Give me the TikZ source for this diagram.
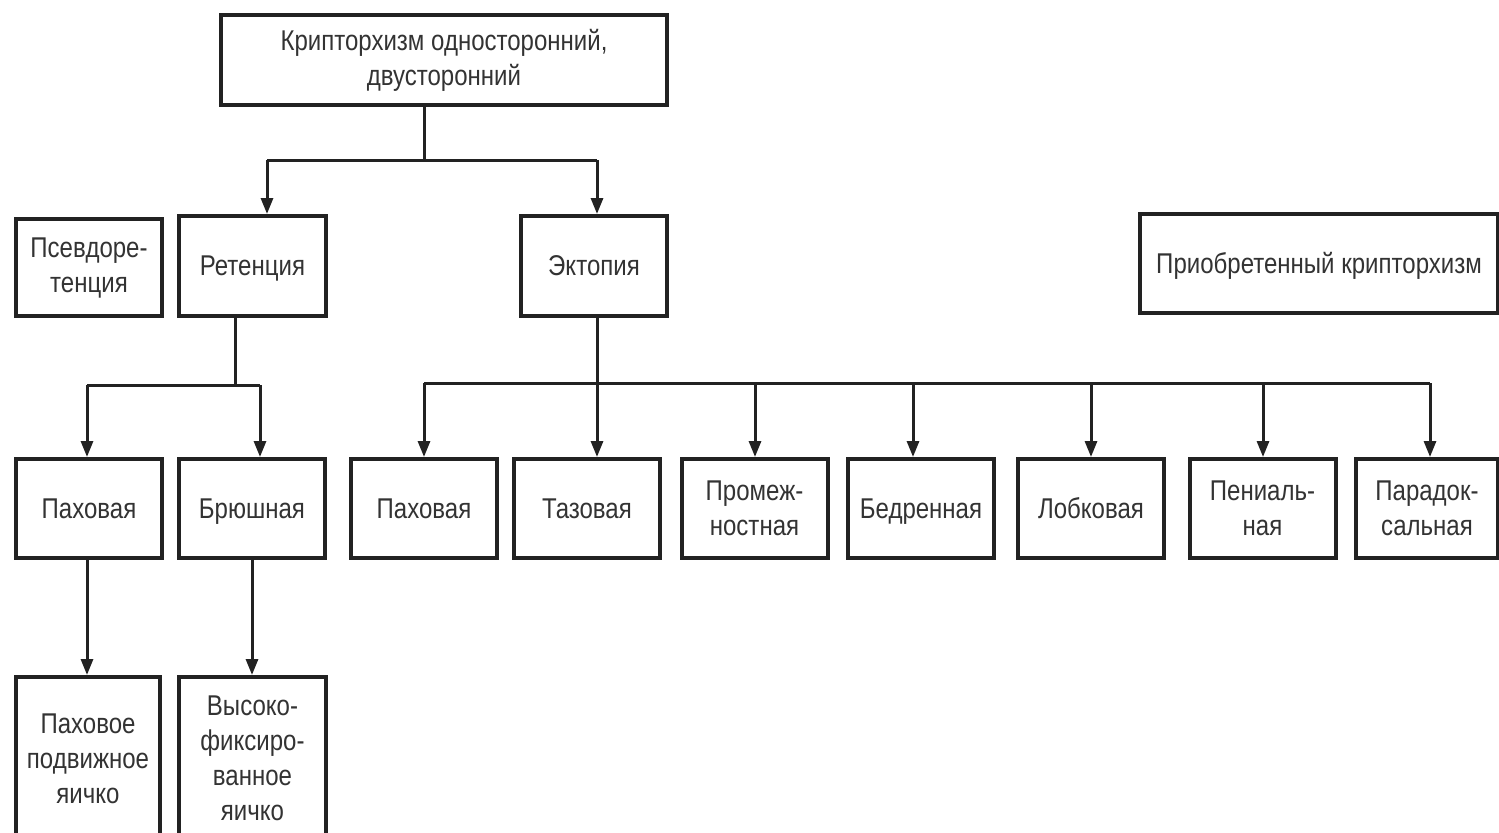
\documentclass[tikz,border=0pt]{standalone}
\usepackage{fontspec}
\setmainfont{Liberation Sans}[FakeStretch=0.84]
\usetikzlibrary{arrows.meta}
\definecolor{ink}{HTML}{222222}
\definecolor{txt}{HTML}{333333}
\begin{document}
\begin{tikzpicture}[x=0.5pt,y=-0.5pt,
  box/.style={draw=ink,line width=2pt,fill=white,inner sep=0pt,align=center,
    text=txt,font=\fontsize{14.3}{17.5}\selectfont,minimum height=49.5pt,minimum width=73pt},
  one/.style={text height=10.5pt,text depth=1pt},
  conn/.style={draw=ink,line width=1.5pt},
  arr/.style={conn,-{Triangle[length=8pt,width=6pt]}}]
\clip (0,0) rectangle (1499,832);
\fill[white] (0,0) rectangle (1499,832);
% level 0
\node[box,minimum width=223pt,minimum height=45pt] (top) at (444,60) {Крипторхизм односторонний,\\двусторонний};
% level 1
\node[box,minimum height=48.5pt] (pseudo) at (89,267.5) {Псевдоре-\\тенция};
\node[box,one,minimum width=73.5pt,minimum height=50pt] (ret) at (252.5,266) {Ретенция};
\node[box,one,minimum height=50pt] (ekt) at (594,266) {Эктопия};
\node[box,one,minimum width=179pt] (acq) at (1319,263.5) {Приобретенный крипторхизм};
% level 2
\node[box,one] (pah1) at (89,508.5) {Паховая};
\node[box,one] (bru) at (252,508.5) {Брюшная};
\node[box,one] (pah2) at (424,508.5) {Паховая};
\node[box,one] (taz) at (587,508.5) {Тазовая};
\node[box] (prom) at (754.5,508.5) {Промеж-\\ностная};
\node[box,one] (bed) at (921,508.5) {Бедренная};
\node[box,one] (lob) at (1091,508.5) {Лобковая};
\node[box] (pen) at (1262.5,508.5) {Пениаль-\\ная};
\node[box,minimum width=71pt] (par) at (1427,508.5) {Парадок-\\сальная};
% level 3
\node[box,minimum width=72pt,minimum height=81.5pt] (mob) at (88,758.5) {Паховое\\подвижное\\яичко};
\node[box,minimum width=73.5pt,minimum height=81.5pt] (vys) at (252.5,758.5) {Высоко-\\фиксиро-\\ванное\\яичко};
% connectors from top
\coordinate (j1) at (424,160);
\coordinate (aR) at (267,160);
\coordinate (aE) at (597,160);
\draw[conn] (top.south -| j1) -- (j1);
\draw[conn] (aR) -- (aE);
\draw[arr] (aR) -- (ret.north -| aR);
\draw[arr] (aE) -- (ekt.north -| aE);
% retention branches
\coordinate (r0) at (235,385);
\coordinate (rL) at (87,385);
\coordinate (rR) at (260,385);
\draw[conn] (ret.south -| r0) -- (r0);
\draw[conn] (rL) -- (rR);
\draw[arr] (rL) -- (pah1.north -| rL);
\draw[arr] (rR) -- (bru.north -| rR);
% ectopia branches
\coordinate (e0) at (597,383);
\coordinate (eL) at (424,383);
\coordinate (eR) at (1430,383);
\coordinate (e3) at (755,383);
\coordinate (e4) at (913,383);
\coordinate (e5) at (1091,383);
\coordinate (e6) at (1263,383);
\draw[conn] (eL) -- (eR);
\draw[arr] (ekt.south -| e0) -- (taz.north -| e0);
\draw[arr] (eL) -- (pah2.north -| eL);
\draw[arr] (e3) -- (prom.north -| e3);
\draw[arr] (e4) -- (bed.north -| e4);
\draw[arr] (e5) -- (lob.north -| e5);
\draw[arr] (e6) -- (pen.north -| e6);
\draw[arr] (eR) -- (par.north -| eR);
% level 2 to level 3
\draw[arr] (pah1.south -| rL) -- (mob.north -| rL);
\coordinate (v0) at (252,600);
\draw[arr] (bru.south -| v0) -- (vys.north -| v0);
\end{tikzpicture}
\end{document}
